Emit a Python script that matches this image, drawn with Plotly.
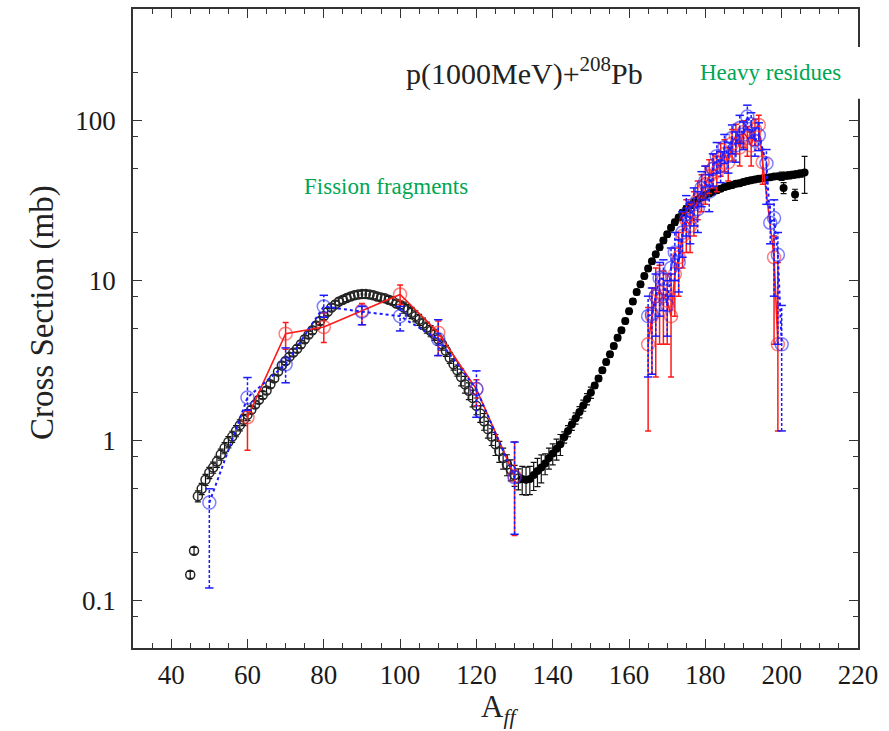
import plotly.graph_objects as go

# ---------------- data ----------------
# black open circles (fission region)
open_A = list(range(45, 132))
open_v = [0.145, 0.205, 0.45, 0.50, 0.57, 0.63, 0.68, 0.74, 0.82, 0.90,
          0.98, 1.06, 1.15, 1.25, 1.35, 1.45, 1.56, 1.68, 1.80, 1.93,
          2.06, 2.25, 2.45, 2.70, 2.95, 3.15, 3.35, 3.55, 3.75, 4.0,
          4.3, 4.6, 4.9, 5.25, 5.6, 6.0, 6.4, 6.8, 7.1, 7.4,
          7.6, 7.8, 7.95, 8.1, 8.2, 8.25, 8.25, 8.2, 8.1, 7.95,
          7.85, 7.75, 7.6, 7.45, 7.2, 7.05, 6.8, 6.55, 6.3, 6.0,
          5.7, 5.4, 5.1, 4.85, 4.6, 4.3, 4.0, 3.65, 3.3, 3.0,
          2.75, 2.5, 2.25, 2.05, 1.85, 1.65, 1.48, 1.32, 1.18, 1.06,
          0.95, 0.86, 0.78, 0.71, 0.66, 0.61, 0.58]
open_rel = [0.05, 0.05] + [0.08] * 14 + [0.05] * 40 + [0.08] * 15 + [0.12] * 9 + [0.15] * 7

# black filled circles (residue side)
fill_A = list(range(132, 201)) + [200.5, 201, 202, 203, 203.5, 204, 205, 206]
fill_v = [0.575, 0.57, 0.575, 0.61, 0.645, 0.68, 0.72, 0.78, 0.83, 0.89,
          0.95, 1.05, 1.15, 1.26, 1.38, 1.51, 1.66, 1.82, 2.0, 2.21,
          2.45, 2.75, 3.1, 3.47, 3.9, 4.4, 4.9, 5.6, 6.45, 7.4,
          8.5, 9.5, 10.7, 11.9, 13.2, 14.6, 16.2, 17.8, 19.5, 21.4,
          23.2, 24.8, 26.6, 28.2, 29.5, 30.9, 32.0, 33.1, 34.3, 35.1,
          35.9, 36.7, 37.6, 38.5, 39.1, 39.6, 40.3, 40.7, 41.3, 41.9,
          42.5, 42.9, 43.3, 43.6, 44.0, 44.3, 44.7, 44.9, 45.0,
          38.0, 45.3, 45.6, 46.0, 34.5, 46.3, 46.7, 47.5]
fill_rel = [0.2] * 6 + [0.15] * 5 + [0.08] * 8 + [0.04] * 49 + [0.06] + [0.08, 0.05, 0.05, 0.05, 0.08, 0.05, 0.05, 0.26]

# red series (solid line)
red_fis_A = [60, 70, 80, 90, 100, 110, 120, 130]
red_fis_v = [1.4, 4.66, 5.13, 6.5, 8.2, 4.73, 2.1, 0.6]
red_fis_hi = [1.54, 5.47, 6.3, 7.2, 9.4, 5.6, 2.4, 0.98]
red_fis_lo = [0.87, 3.72, 4.1, 5.3, 7.1, 3.4, 1.65, 0.255]

red_hr_A = [165, 166, 167, 168, 169, 170, 171, 172, 173, 174, 175, 176, 177, 178, 179,
            180, 181, 182, 183, 184, 185, 186, 187, 188, 189, 190, 191, 192, 193, 194,
            195, 198, 199]
red_hr_v = [4.0, 6.0, 8.0, 8.5, 8.0, 7.5, 6.0, 11.0, 14.0, 19.0, 24.0, 22.0, 27.0, 32.0, 36.0,
            40.0, 45.0, 50.0, 48.0, 58.0, 62.0, 55.0, 72.0, 80.0, 68.0, 85.0, 78.0, 70.0, 88.0, 94.0,
            55.0, 14.0, 4.0]
red_hr_hi = [6.8, 9.0, 12.0, 12.5, 11.5, 11.0, 11.0, 16.0, 20.0, 27.0, 32.0, 30.0, 36.0, 42.0, 46.0,
             52.0, 57.0, 62.0, 60.0, 72.0, 76.0, 68.0, 88.0, 95.0, 82.0, 100.0, 92.0, 85.0, 102.0, 108.0,
             66.0, 19.0, 13.0]
red_hr_lo = [1.15, 2.6, 2.5, 4.0, 4.0, 4.0, 2.5, 6.0, 8.0, 12.0, 15.0, 15.0, 19.0, 24.0, 27.0,
             30.0, 35.0, 38.0, 36.0, 45.0, 48.0, 42.0, 56.0, 62.0, 52.0, 68.0, 60.0, 52.0, 70.0, 75.0,
             40.0, 4.0, 1.15]

# blue series (dotted line)
blue_fis_A = [50, 60, 70, 80, 90, 100, 110, 120, 130]
blue_fis_v = [0.41, 1.86, 3.0, 6.9, 6.4, 6.0, 4.3, 2.1, 0.59]
blue_fis_hi = [0.5, 2.48, 3.8, 8.1, 6.9, 6.9, 5.7, 2.73, 0.98]
blue_fis_lo = [0.12, 1.55, 2.3, 5.9, 5.3, 4.85, 3.4, 1.4, 0.26]

blue_hr_A = [165, 166, 167, 168, 169, 170, 171, 172, 173, 174, 175, 176, 177, 178, 179,
             180, 181, 182, 183, 184, 185, 186, 187, 188, 189, 190, 191, 192, 193, 194,
             196, 197, 198, 199, 200]
blue_hr_v = [6.0, 6.2, 8.0, 10.4, 10.2, 7.0, 12.0, 15.0, 13.0, 20.0, 26.0, 24.0, 30.0, 28.0, 38.0,
             42.0, 36.0, 50.0, 60.0, 52.0, 68.0, 60.0, 78.0, 70.0, 90.0, 82.0, 106.0, 95.0, 75.0, 81.0,
             54.0, 23.0, 24.6, 14.5, 4.0]
blue_hr_hi = [8.0, 9.0, 11.0, 13.0, 13.5, 10.0, 16.0, 20.0, 18.0, 27.0, 34.0, 31.0, 38.0, 36.0, 48.0,
              52.0, 46.0, 62.0, 73.0, 64.0, 82.0, 73.0, 94.0, 85.0, 108.0, 98.0, 125.0, 112.0, 90.0, 97.0,
              66.0, 30.0, 32.0, 20.0, 7.0]
blue_hr_lo = [2.5, 2.6, 4.5, 6.0, 6.5, 4.5, 8.0, 10.0, 8.5, 14.0, 19.0, 17.0, 22.0, 20.0, 29.0,
              32.0, 27.0, 39.0, 47.0, 41.0, 54.0, 47.0, 62.0, 55.0, 72.0, 66.0, 88.0, 78.0, 60.0, 65.0,
              30.0, 17.0, 8.0, 4.0, 1.15]

x_ticks = [40, 60, 80, 100, 120, 140, 160, 180, 200, 220]
y_ticks = [0.1, 1, 10, 100]
y_ticktext = ["0.1", "1", "10", "100"]
y_minor = [0.05, 0.08, 0.2, 0.5, 0.8, 2, 5, 8, 20, 50, 80, 200, 500]

FONT = "Liberation Serif"
RED = "#ff1a1a"
BLUE = "#1a1aff"
GREEN = "#00a651"

fig = go.Figure()

# black open circles
fig.add_trace(go.Scatter(
    x=open_A, y=open_v, mode="markers",
    marker=dict(symbol="circle-open", size=9, color="#262626", line=dict(width=1.5)),
    error_y=dict(type="data", array=[v * r for v, r in zip(open_v, open_rel)],
                 color="#111", thickness=1.2, width=3),
    showlegend=False))

# black filled circles
fig.add_trace(go.Scatter(
    x=fill_A, y=fill_v, mode="markers",
    marker=dict(symbol="circle", size=8, color="black"),
    error_y=dict(type="data", array=[v * r for v, r in zip(fill_v, fill_rel)],
                 color="#111", thickness=1.2, width=3),
    showlegend=False))


def add_red(A, v, hi, lo):
    fig.add_trace(go.Scatter(
        x=A, y=v, mode="lines+markers",
        line=dict(color=RED, width=1.6),
        marker=dict(symbol="circle-open", size=13, color="rgba(255,40,40,0.6)", line=dict(width=1.5)),
        error_y=dict(type="data", symmetric=False,
                     array=[h - y for h, y in zip(hi, v)],
                     arrayminus=[y - l for y, l in zip(v, lo)],
                     color=RED, thickness=1.5, width=3),
        showlegend=False))


def add_blue(A, v, hi, lo):
    ex, ey = [], []
    for a, h, l in zip(A, hi, lo):
        ex += [a, a, None]
        ey += [l, h, None]
    fig.add_trace(go.Scatter(x=ex, y=ey, mode="lines",
                             line=dict(color=BLUE, width=1.5, dash="3px,2px"),
                             showlegend=False, hoverinfo="skip"))
    fig.add_trace(go.Scatter(x=A + A, y=hi + lo, mode="markers",
                             marker=dict(symbol="line-ew", size=6, line=dict(color=BLUE, width=1.5)),
                             showlegend=False, hoverinfo="skip"))
    fig.add_trace(go.Scatter(
        x=A, y=v, mode="lines+markers",
        line=dict(color=BLUE, width=2, dash="dot"),
        marker=dict(symbol="circle-open", size=13, color="rgba(40,40,255,0.6)", line=dict(width=1.5)),
        showlegend=False))


add_red(red_fis_A, red_fis_v, red_fis_hi, red_fis_lo)
add_red(red_hr_A, red_hr_v, red_hr_hi, red_hr_lo)
add_blue(blue_fis_A, blue_fis_v, blue_fis_hi, blue_fis_lo)
add_blue(blue_hr_A, blue_hr_v, blue_hr_hi, blue_hr_lo)

axis_common = dict(showline=True, linecolor="#333", linewidth=1.5, mirror="ticks",
                   ticks="inside", tickcolor="#333", tickwidth=1.3, ticklen=9,
                   showgrid=False, zeroline=False,
                   tickfont=dict(family=FONT, size=27, color="#1a1a1a"))

fig.update_xaxes(range=[30, 220], tickvals=x_ticks, ticklabelstandoff=2,
                 minor=dict(dtick=5, ticks="inside", ticklen=5, tickcolor="#333", tickwidth=1.2),
                 **axis_common)
fig.update_yaxes(type="log", range=[-1.296, 2.698], tickvals=y_ticks, ticktext=y_ticktext,
                 ticklabelstandoff=10,
                 minor=dict(tickvals=y_minor, ticks="inside", ticklen=5, tickcolor="#333", tickwidth=1.2),
                 **axis_common)


def px_x(px):
    return (px - 133) / 725


def px_y(py):
    return (648 - py) / 641


ann = dict(xref="paper", yref="paper", showarrow=False, xanchor="center", yanchor="middle")

fig.update_layout(
    width=889, height=731,
    margin=dict(l=133, r=31, t=7, b=83),
    paper_bgcolor="white", plot_bgcolor="white",
    showlegend=False,
    shapes=[dict(type="rect", xref="paper", yref="paper", x0=0.768, x1=1.03, y0=0.8596, y1=0.9407,
                 fillcolor="white", line=dict(width=0), layer="above")],
    annotations=[
        dict(text="p(1000MeV)+<sup>208</sup>Pb", x=px_x(524), y=px_y(70),
             font=dict(family=FONT, size=30, color="#222"), **ann),
        dict(text="Heavy residues", x=px_x(770), y=px_y(71),
             font=dict(family=FONT, size=23, color=GREEN), **ann),
        dict(text="Fission fragments", x=px_x(386), y=px_y(185),
             font=dict(family=FONT, size=23, color=GREEN), **ann),
        dict(text="Cross Section (mb)", x=px_x(42), y=px_y(312), textangle=-90,
             font=dict(family=FONT, size=33, color="#222"), **ann),
        dict(text="A<sub><i>ff</i></sub>", x=px_x(499), y=px_y(709),
             font=dict(family=FONT, size=31, color="#222"), **ann),
    ],
)

fig.write_html("out.html")
